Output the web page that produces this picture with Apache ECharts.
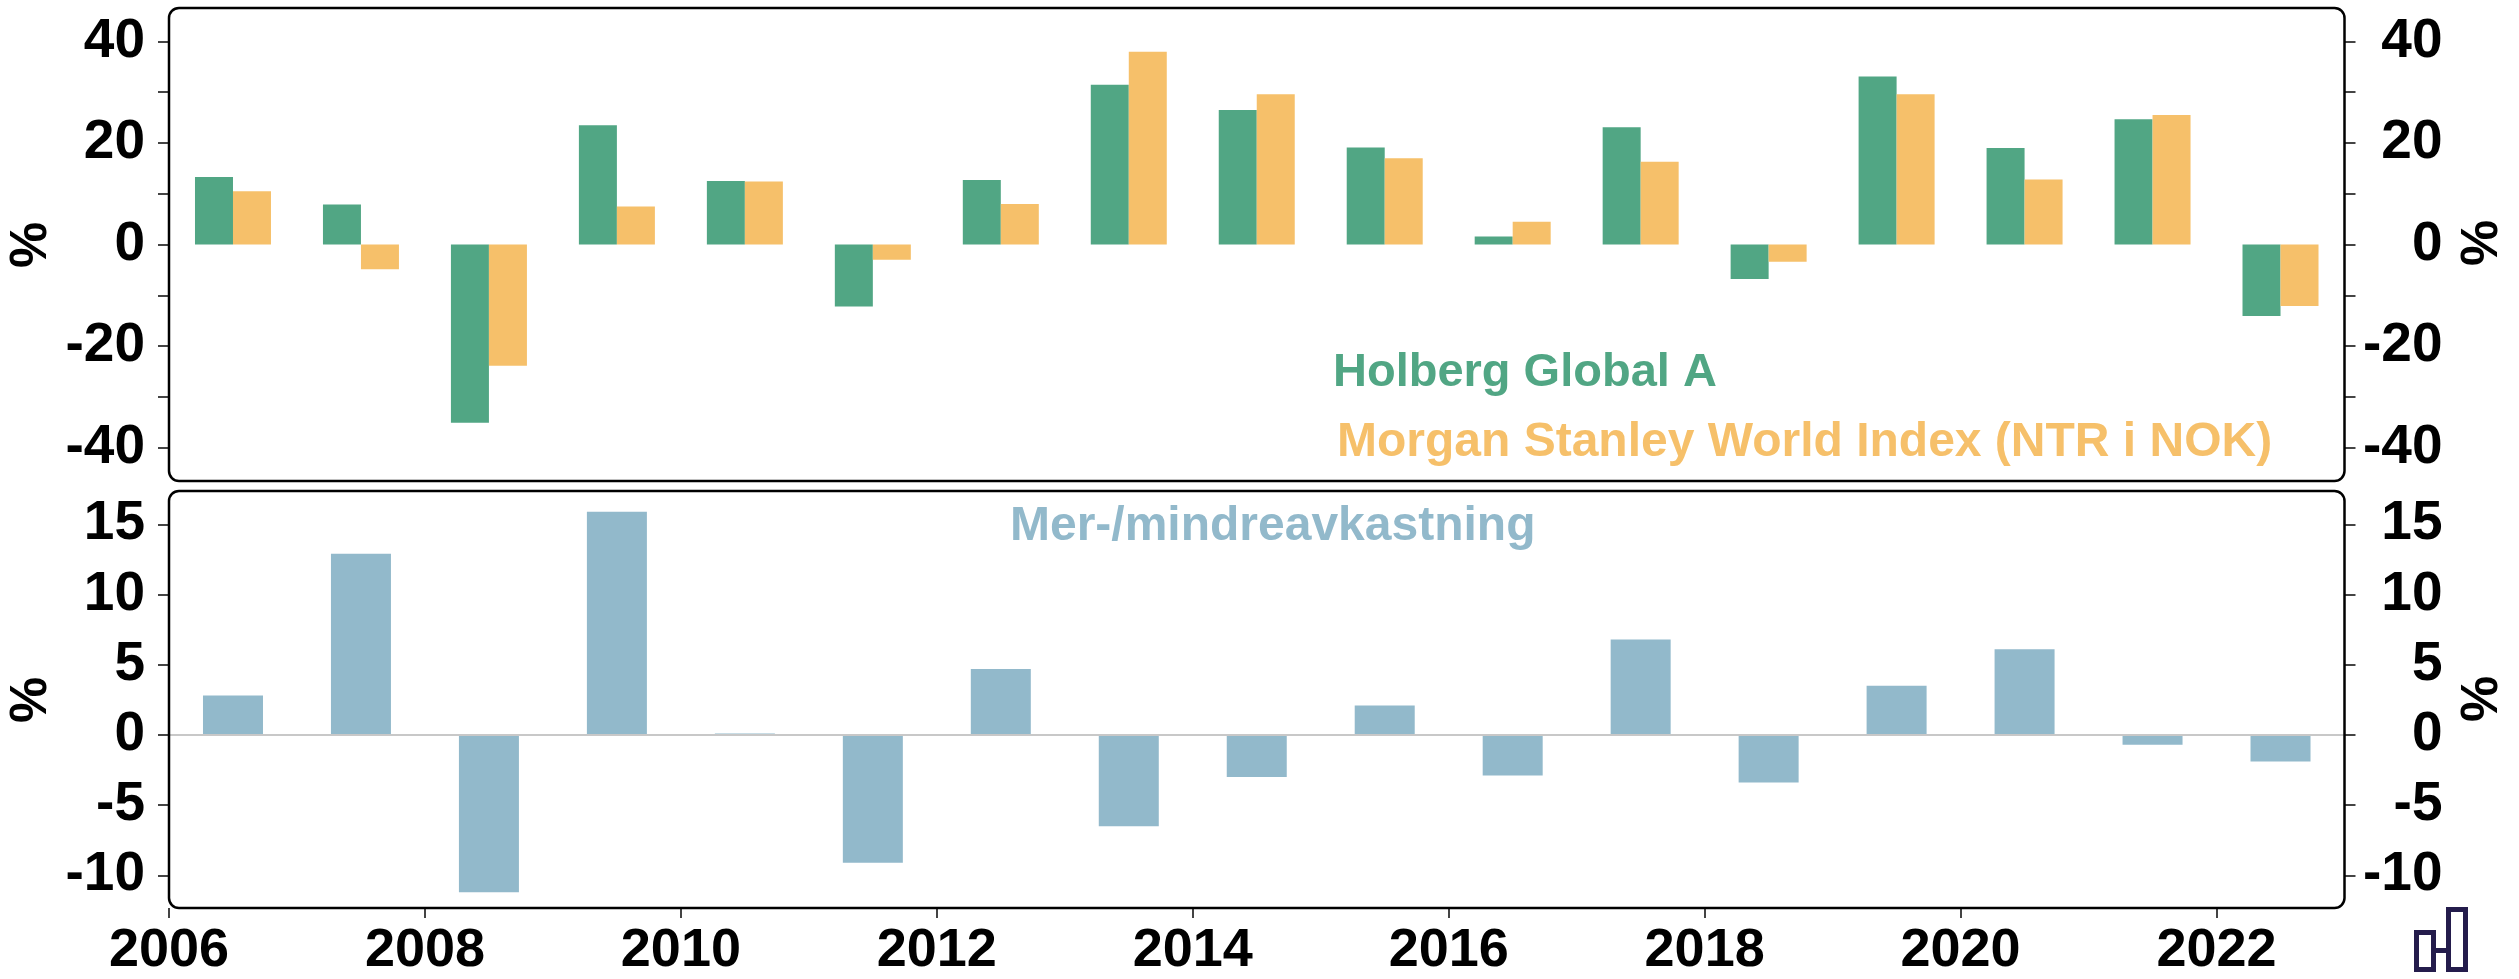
<!DOCTYPE html>
<html>
<head>
<meta charset="utf-8">
<script src="https://cdn.jsdelivr.net/npm/echarts@6/dist/echarts.min.js"></script>
<style>
html,body{margin:0;padding:0;background:#fff;}
#chart{width:2519px;height:979px;}
</style>
</head>
<body>
<div id="chart"></div>
<script>
// ---- data ----
const years = [2006,2007,2008,2009,2010,2011,2012,2013,2014,2015,2016,2017,2018,2019,2020,2021,2022];
const holberg = [13.3, 7.9, -35.1, 23.5, 12.5, -12.2, 12.7, 31.5, 26.5, 19.1, 1.6, 23.1, -6.8, 33.1, 19.0, 24.7, -14.1];
const msci    = [10.5, -4.9, -23.9, 7.5, 12.4, -3.0, 8.0, 38.0, 29.6, 17.0, 4.5, 16.3, -3.4, 29.6, 12.8, 25.5, -12.1];
const excess  = [2.8, 12.9, -11.2, 15.9, 0.1, -9.1, 4.7, -6.5, -3.0, 2.1, -2.9, 6.8, -3.4, 3.5, 6.1, -0.7, -1.9];
const seriesNames = ['Holberg Global A', 'Morgan Stanley World Index (NTR i NOK)', 'Mer-/mindreavkastning'];
const xTickLabels = [2006,2008,2010,2012,2014,2016,2018,2020,2022];
const topLabels = [-40,-20,0,20,40];
const topTicks = [-40,-30,-20,-10,0,10,20,30,40];
const bottomLabels = [-10,-5,0,5,10,15];
const axisUnit = '%';

// ---- layout / style ----
const FONT = 'Liberation Sans, Arial, sans-serif';
const GREEN = '#51A684', ORANGE = '#F6C06A', BLUE = '#92B9CB';
const L = 169, R = 2344.5, W = 2519;
const T1 = 8, B1 = 481, T2 = 491, B2 = 908;

const toXY = (vals) => vals.map((v, i) => [years[i] + 0.5, v]);

const yCommon = (pos, labels, ticks, min, max, gridIndex) => ({
  type: 'value', gridIndex, position: pos, min, max,
  axisLine: {show: false, onZero: false},
  splitLine: {show: false},
  axisTick: {show: true, inside: false, length: 11, customValues: ticks, lineStyle: {color: '#444', width: 2}},
  axisLabel: {
    show: true, customValues: labels, align: 'right',
    margin: pos === 'left' ? 24 : 98,
    fontFamily: FONT, fontWeight: 'bold', fontSize: 55, color: '#000',
    formatter: v => String(v)
  }
});

const chart = echarts.init(document.getElementById('chart'), null, {renderer: 'canvas'});
const option = {
  backgroundColor: '#fff',
  animation: false,
  grid: [
    {left: L, right: W - R, top: T1, height: B1 - T1},
    {left: L, right: W - R, top: T2, height: B2 - T2}
  ],
  xAxis: [
    {type: 'value', gridIndex: 0, min: 2006, max: 2023,
     axisLine: {show: false, onZero: false}, axisTick: {show: false}, axisLabel: {show: false}, splitLine: {show: false}},
    {type: 'value', gridIndex: 1, min: 2006, max: 2023, position: 'bottom',
     axisLine: {show: false, onZero: false},
     axisTick: {show: true, length: 10, customValues: xTickLabels, lineStyle: {color: '#444', width: 2}},
     axisLabel: {customValues: xTickLabels, margin: 16, fontFamily: FONT, fontWeight: 'bold', fontSize: 54, color: '#000',
                 formatter: v => String(v)},
     splitLine: {show: false}}
  ],
  yAxis: [
    yCommon('left', topLabels, topTicks, -46.6, 46.6, 0),
    yCommon('right', topLabels, topTicks, -46.6, 46.6, 0),
    yCommon('left', bottomLabels, bottomLabels, -12.33, 17.37, 1),
    yCommon('right', bottomLabels, bottomLabels, -12.33, 17.37, 1)
  ],
  series: [
    {name: seriesNames[0], type: 'bar', xAxisIndex: 0, yAxisIndex: 0, data: toXY(holberg),
     barWidth: 38, barGap: '0%', itemStyle: {color: GREEN}},
    {name: seriesNames[1], type: 'bar', xAxisIndex: 0, yAxisIndex: 0, data: toXY(msci),
     barWidth: 38, barGap: '0%', itemStyle: {color: ORANGE}},
    {name: seriesNames[2], type: 'bar', xAxisIndex: 1, yAxisIndex: 2, data: toXY(excess),
     barWidth: 60, itemStyle: {color: BLUE},
     markLine: {silent: true, symbol: 'none', label: {show: false},
                lineStyle: {color: '#c8c8c8', width: 2, type: 'solid'}, data: [{yAxis: 0}]}}
  ],
  graphic: [
    {type: 'rect', shape: {x: L, y: T1, width: R - L, height: B1 - T1, r: 10},
     style: {fill: null, stroke: '#000', lineWidth: 2.5}, z: 100},
    {type: 'rect', shape: {x: L, y: T2, width: R - L, height: B2 - T2, r: 10},
     style: {fill: null, stroke: '#000', lineWidth: 2.5}, z: 100},
    {type: 'text', x: 1333, y: 373.5, style: {text: seriesNames[0], fill: GREEN, fontFamily: FONT, fontWeight: 'bold', fontSize: 47, align: 'left', verticalAlign: 'middle'}},
    {type: 'text', x: 1337, y: 442.5, style: {text: seriesNames[1], fill: ORANGE, fontFamily: FONT, fontWeight: 'bold', fontSize: 48, align: 'left', verticalAlign: 'middle'}},
    {type: 'text', x: 1010, y: 526.8, style: {text: seriesNames[2], fill: BLUE, fontFamily: FONT, fontWeight: 'bold', fontSize: 48, align: 'left', verticalAlign: 'middle'}},
    {type: 'text', x: 32, y: 245, rotation: Math.PI / 2, style: {text: axisUnit, fill: '#000', fontFamily: FONT, fontWeight: 'bold', fontSize: 52, align: 'center', verticalAlign: 'middle'}},
    {type: 'text', x: 2483, y: 243, rotation: Math.PI / 2, style: {text: axisUnit, fill: '#000', fontFamily: FONT, fontWeight: 'bold', fontSize: 52, align: 'center', verticalAlign: 'middle'}},
    {type: 'text', x: 32, y: 700, rotation: Math.PI / 2, style: {text: axisUnit, fill: '#000', fontFamily: FONT, fontWeight: 'bold', fontSize: 52, align: 'center', verticalAlign: 'middle'}},
    {type: 'text', x: 2483, y: 699, rotation: Math.PI / 2, style: {text: axisUnit, fill: '#000', fontFamily: FONT, fontWeight: 'bold', fontSize: 52, align: 'center', verticalAlign: 'middle'}},
    // small logo, bottom right
    {type: 'group', children: [
      {type: 'rect', shape: {x: 2416.5, y: 932.5, width: 17, height: 37}, style: {fill: null, stroke: '#241C4C', lineWidth: 5}},
      {type: 'rect', shape: {x: 2448.5, y: 909.5, width: 17, height: 60}, style: {fill: null, stroke: '#241C4C', lineWidth: 5}},
      {type: 'line', shape: {x1: 2433, y1: 950.5, x2: 2448, y2: 950.5}, style: {stroke: '#241C4C', lineWidth: 5}}
    ]}
  ]
};
chart.setOption(option);
</script>
</body>
</html>
